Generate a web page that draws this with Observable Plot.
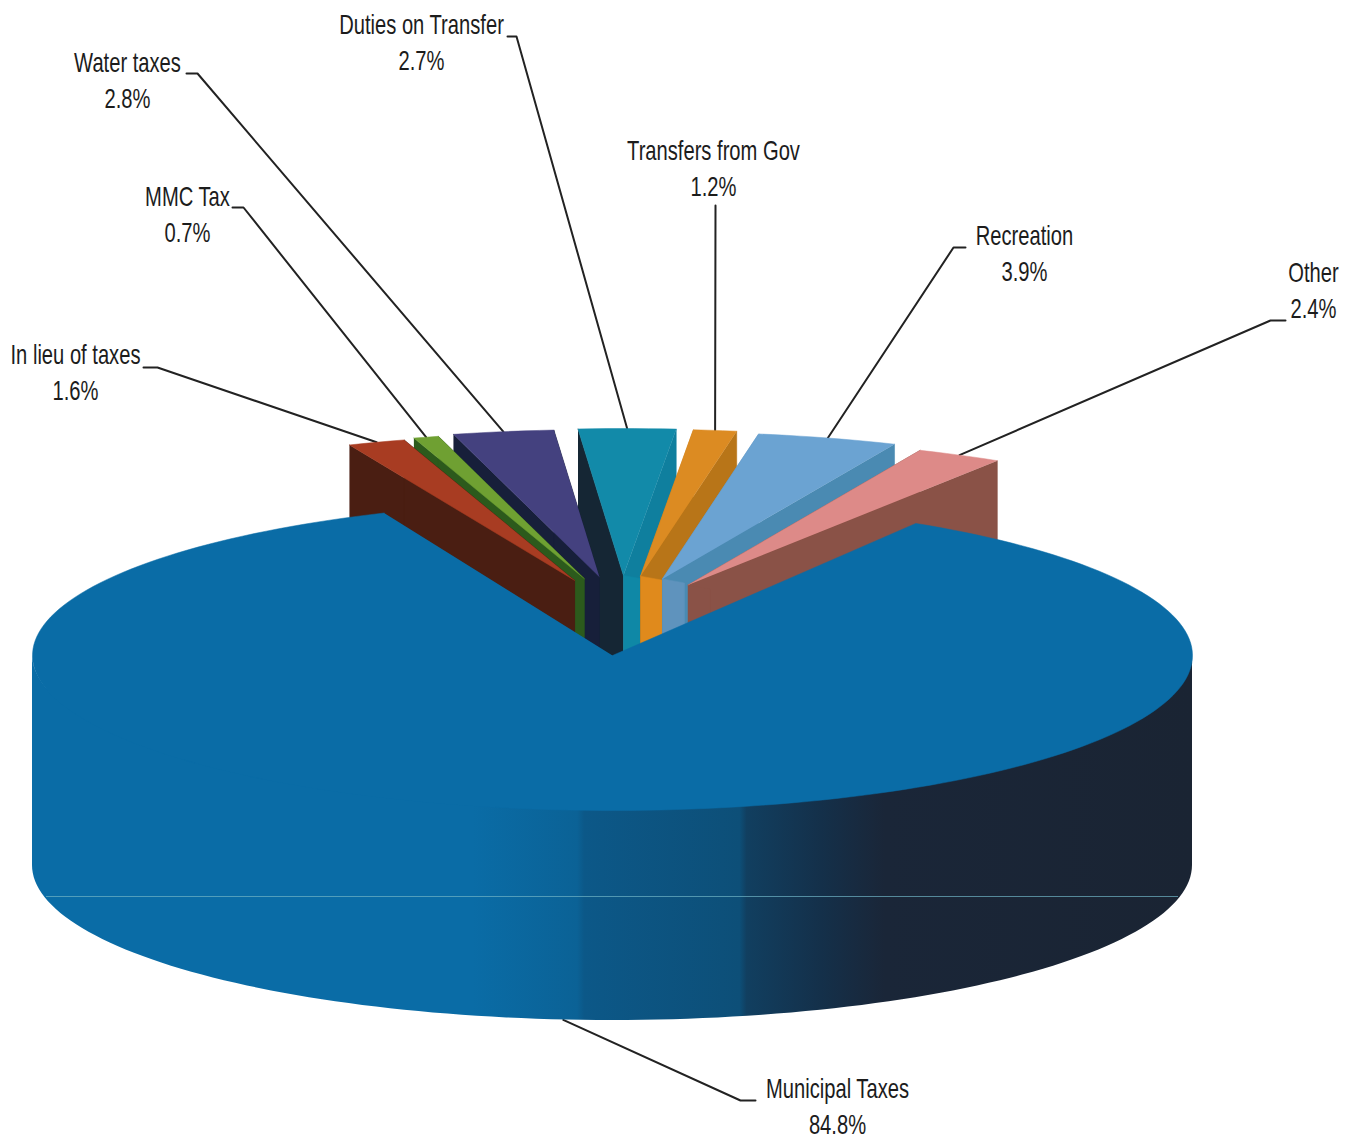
<!DOCTYPE html>
<html>
<head>
<meta charset="utf-8">
<script src="https://cdn.jsdelivr.net/npm/d3@7"></script>
<script src="https://cdn.jsdelivr.net/npm/@observablehq/plot@0.6"></script>
<style>
  html, body { margin: 0; padding: 0; background: #fff; }
  svg { display: block; }
</style>
</head>
<body>
<div id="chart"></div>
<script>
// Revenue sources, clockwise from the left edge of the detached group.
const categories = ["In lieu of taxes", "MMC Tax", "Water taxes", "Duties on Transfer",
  "Transfers from Gov", "Recreation", "Other", "Municipal Taxes"];
const shares = [1.6, 0.7, 2.8, 2.7, 1.2, 3.9, 2.4, 84.8];

// Face colours per category: top, left wall, right wall, wall under the point.
const topColors = ["#a83c22", "#6fa032", "#44417f", "#128aa9", "#dc8b22", "#6ba3d2", "#dd8a88", "#0a6ca6"];
const leftWalls = ["#4a1e12", "#2c5a1c", "#171f3a", "#152634", "#c67f1c", "#5f93bd", "#8a5247", "#0a6ca6"];
const rightWalls = ["#4a1e12", "#2c5a1c", "#171f3a", "#0f7f9e", "#b87518", "#4a8ab2", "#8a5247", "#0a6ca6"];
const noseWalls = ["#4a1e12", "#2c5a1c", "#1a2a40", "#0f88a6", "#e08a1c", "#5f93bd", "#8a5247", "#0a6ca6"];

// Callout layout: label centre, first-line y, and the elbow the leader starts from.
const labelX = [75, 187, 127, 421, 713, 1024, 1313, 837];
const labelY = [355, 197, 63, 25, 151, 236, 273, 1089];
const elbowStartX = [143, 232, 186, 507, 715, 965, 1285, 755];
const elbowEndX = [157, 243, 197, 516, 715, 953, 1270, 740];
const elbowY = [367, 207, 73, 36, 205, 247, 320, 1100];

// Pie model: projected ellipse, wall depth, and how the small slices are pulled out.
const W = 1359, H = 1143;
const pie = { cx: 612, cy: 655, rx: 580, ry: 155, depth: 210, turn: -0.7 };
const slice = { rx: 580, ry: 147, depth: 165, cx: 622, cy: 657, pullX: 140, pullY: 82 };
const startAngle = -22.85;
const labelSqueeze = 0.72;

const rad = (a) => a * Math.PI / 180;
let cursor = startAngle;
const wedges = shares.map((s, i) => {
  const a0 = cursor, a1 = cursor + s * 3.6;
  cursor = a1;
  return { i, a0, a1, mid: (a0 + a1) / 2 };
});

function arc(cx, cy, rx, ry, a0, a1) {
  const n = Math.max(2, Math.ceil(Math.abs(a1 - a0) / 1.5));
  return d3.range(n + 1).map((k) => {
    const a = rad(a0 + (a1 - a0) * k / n);
    return { x: cx + rx * Math.sin(a), y: cy - ry * Math.cos(a) };
  });
}
const drop = (pts, d) => pts.map((p) => ({ x: p.x, y: p.y + d }));
const poly = (pts, fill) => Plot.line(pts, { x: "x", y: "y", fill, stroke: fill, strokeWidth: 0.5, curve: "linear" });

function sliceGeometry(w) {
  const m = rad(w.mid);
  const apex = { x: slice.cx + slice.pullX * Math.sin(m), y: slice.cy - slice.pullY * Math.cos(m) };
  const rim = arc(apex.x, apex.y, slice.rx, slice.ry, w.a0, w.a1);
  return { apex, rim };
}

function sliceMarks(w) {
  const { apex, rim } = sliceGeometry(w);
  const d = slice.depth;
  const L = rim[0], R = rim[rim.length - 1];
  const nose = [apex, { x: apex.x + 22, y: apex.y + 4 }, { x: apex.x + 22, y: apex.y + d },
    { x: apex.x, y: apex.y + d }];
  return [
    poly([L, apex, ...drop([apex, L], d)], leftWalls[w.i]),
    poly([apex, R, ...drop([R, apex], d)], rightWalls[w.i]),
    w.i >= 3 ? poly(nose, noseWalls[w.i]) : null,
    poly([apex, ...rim], topColors[w.i])
  ];
}

// Painter's order: the centre slice first, then outwards on each side.
const small = wedges.slice(0, 7);
const paintOrder = [3, 2, 1, 0, 4, 5, 6].map((i) => small[i]);

// Large slice: shaded rim wall plus its top face with the notch at the centre.
const main = wedges[7];
const wallRows = arc(pie.cx, pie.cy, pie.rx, pie.ry, 90, 270)
  .map((p) => ({ x: p.x, top: p.y - 1, bottom: p.y + pie.depth }));
const mainTop = [{ x: pie.cx, y: pie.cy },
  ...arc(pie.cx, pie.cy, pie.rx, pie.ry, main.a0 + pie.turn, main.a1 + pie.turn)];

const sideShade = [[0, "#0a6ca6"], [0.38, "#0a6ca6"], [0.47, "#0b6296"], [0.476, "#0c5888"],
  [0.61, "#0d4f78"], [0.616, "#113f60"], [0.68, "#14304a"], [0.735, "#1a2638"], [1, "#1a2433"]];

function gradientDefs() {
  const defs = d3.create("svg:defs");
  const g = defs.append("linearGradient").attr("id", "sideShade")
    .attr("x1", 0).attr("x2", 1).attr("y1", 0).attr("y2", 0);
  sideShade.forEach(([o, c]) => g.append("stop").attr("offset", o).attr("stop-color", c));
  return defs.node();
}

// Leaders run from the label elbow to the middle of each slice's rim.
function leaderEnd(w) {
  if (w.i === 7) return arc(pie.cx, pie.cy + pie.depth, pie.rx, pie.ry, w.mid, w.mid)[0];
  const { apex } = sliceGeometry(w);
  return arc(apex.x, apex.y, slice.rx, slice.ry, w.mid, w.mid)[0];
}
const leaders = wedges.map((w) => [
  { x: elbowStartX[w.i], y: elbowY[w.i] },
  { x: elbowEndX[w.i], y: elbowY[w.i] },
  leaderEnd(w)
]);

const labelFont = "'Liberation Sans', Arial, sans-serif";
const labelRows = categories.flatMap((name, i) => [
  { x: labelX[i], y: labelY[i], text: name },
  { x: labelX[i], y: labelY[i] + 36, text: shares[i].toFixed(1) + "%" }
]);

const chart = Plot.plot({
  width: W,
  height: H,
  margin: 0,
  x: { axis: null, domain: [0, W], range: [0, W] },
  y: { axis: null, domain: [0, H], range: [0, H] },
  style: { background: "#fff" },
  marks: [
    gradientDefs,
    ...leaders.map((pts) => Plot.line(pts, { x: "x", y: "y", stroke: "#222", strokeWidth: 2, curve: "linear" })),
    ...paintOrder.flatMap(sliceMarks).filter(Boolean),
    Plot.areaY(wallRows, { x: "x", y1: "top", y2: "bottom", fill: "url(#sideShade)" }),
    Plot.ruleY([896], { x1: 46, x2: 1178, stroke: "#6fb4c4", strokeWidth: 1, strokeOpacity: 0.7 }),
    poly(mainTop, topColors[7]),
    Plot.text(labelRows, { x: "x", y: "y", text: "text", fontSize: 28, fontFamily: labelFont, fill: "#1c1c1c" })
  ]
});
document.getElementById("chart").append(chart);

// The labels are set in a condensed cut: narrow each one once it can be measured.
chart.querySelectorAll("text").forEach((t) => {
  t.setAttribute("textLength", (t.getComputedTextLength() * labelSqueeze).toFixed(1));
  t.setAttribute("lengthAdjust", "spacingAndGlyphs");
});
</script>
</body>
</html>
